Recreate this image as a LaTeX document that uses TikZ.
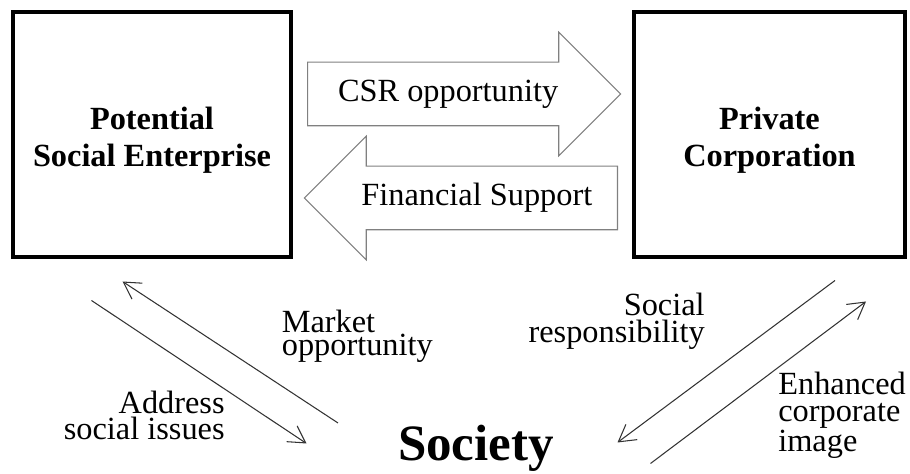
\documentclass[tikz,border=0pt]{standalone}
\usepackage{fontspec}
\setmainfont{Liberation Serif}
\usetikzlibrary{arrows.meta,positioning,calc,shapes.arrows}

\begin{document}
\begin{tikzpicture}[
  font=\fontsize{18.4}{21}\selectfont,
  entity/.style={draw, line width=0.08cm, minimum height=4.9cm},
  entitytext/.style={align=center, yshift=-0.12cm, inner sep=0pt, font=\fontsize{18.4}{21}\selectfont\bfseries},
  blockarrow/.style={single arrow, draw=gray, line width=0.6pt, minimum height=6.26cm, minimum width=2.45cm, single arrow head extend=0.6cm, single arrow tip angle=90, inner ysep=0.325cm, text height=0.45cm, text depth=0.15cm},
  flow/.style={-{Straight Barb[length=3.3mm,width=3.8mm]}, line width=0.6pt, draw=black!80},
  lbl/.style={inner sep=0pt, font=\fontsize{18.4}{15.3}\selectfont},
]
\useasboundingbox (0,0) rectangle (18.2,9.48);

% --- Top: the two parties ---
\node[entity, minimum width=5.56cm, label={[entitytext]center:Potential\\Social Enterprise}] (pse) at (3.04,6.79) {};
\node[entity, minimum width=5.42cm, label={[entitytext]center:Private\\Corporation}] (corp) at (15.39,6.79) {};

% --- Between: block arrows ---
\node[blockarrow, anchor=tail] (csr) at (6.14,7.6) {CSR opportunity};
\node[blockarrow, shape border rotate=180, anchor=tail] (fin) at (12.36,5.52) {Financial Support};

% --- Bottom: society ---
\node[font=\fontsize{29}{34}\selectfont\bfseries, anchor=base, inner sep=0pt] (soc) at (9.52,0.26) {Society};

% --- Left pair of arrows ---
\coordinate (mktTail) at (6.76,1.02);
\coordinate (mktTip) at (2.45,3.85);
\coordinate (adrTail) at (1.83,3.47);
\coordinate (adrTip) at (6.13,0.61);
\draw[flow] (mktTail) -- (mktTip);
\draw[flow] (adrTail) -- (adrTip);
\node[lbl, align=left, anchor=west, font=\fontsize{18.4}{13}\selectfont] (mkt) at (5.63,2.76) {Market\\opportunity};
\node[lbl, align=right, anchor=east] (adr) at (4.50,1.17) {Address\\social issues};

% --- Right pair of arrows ---
\coordinate (respTail) at (16.70,3.87);
\coordinate (respTip) at (12.35,0.63);
\coordinate (imgTail) at (13.01,0.21);
\coordinate (imgTip) at (17.32,3.45);
\draw[flow] (respTail) -- (respTip);
\draw[flow] (imgTail) -- (imgTip);
\node[lbl, align=right, anchor=east] (resp) at (14.10,3.06) {Social\\responsibility};
\node[lbl, align=left, anchor=west] (img) at (15.56,1.17) {Enhanced\\corporate\\image};

\end{tikzpicture}
\end{document}
